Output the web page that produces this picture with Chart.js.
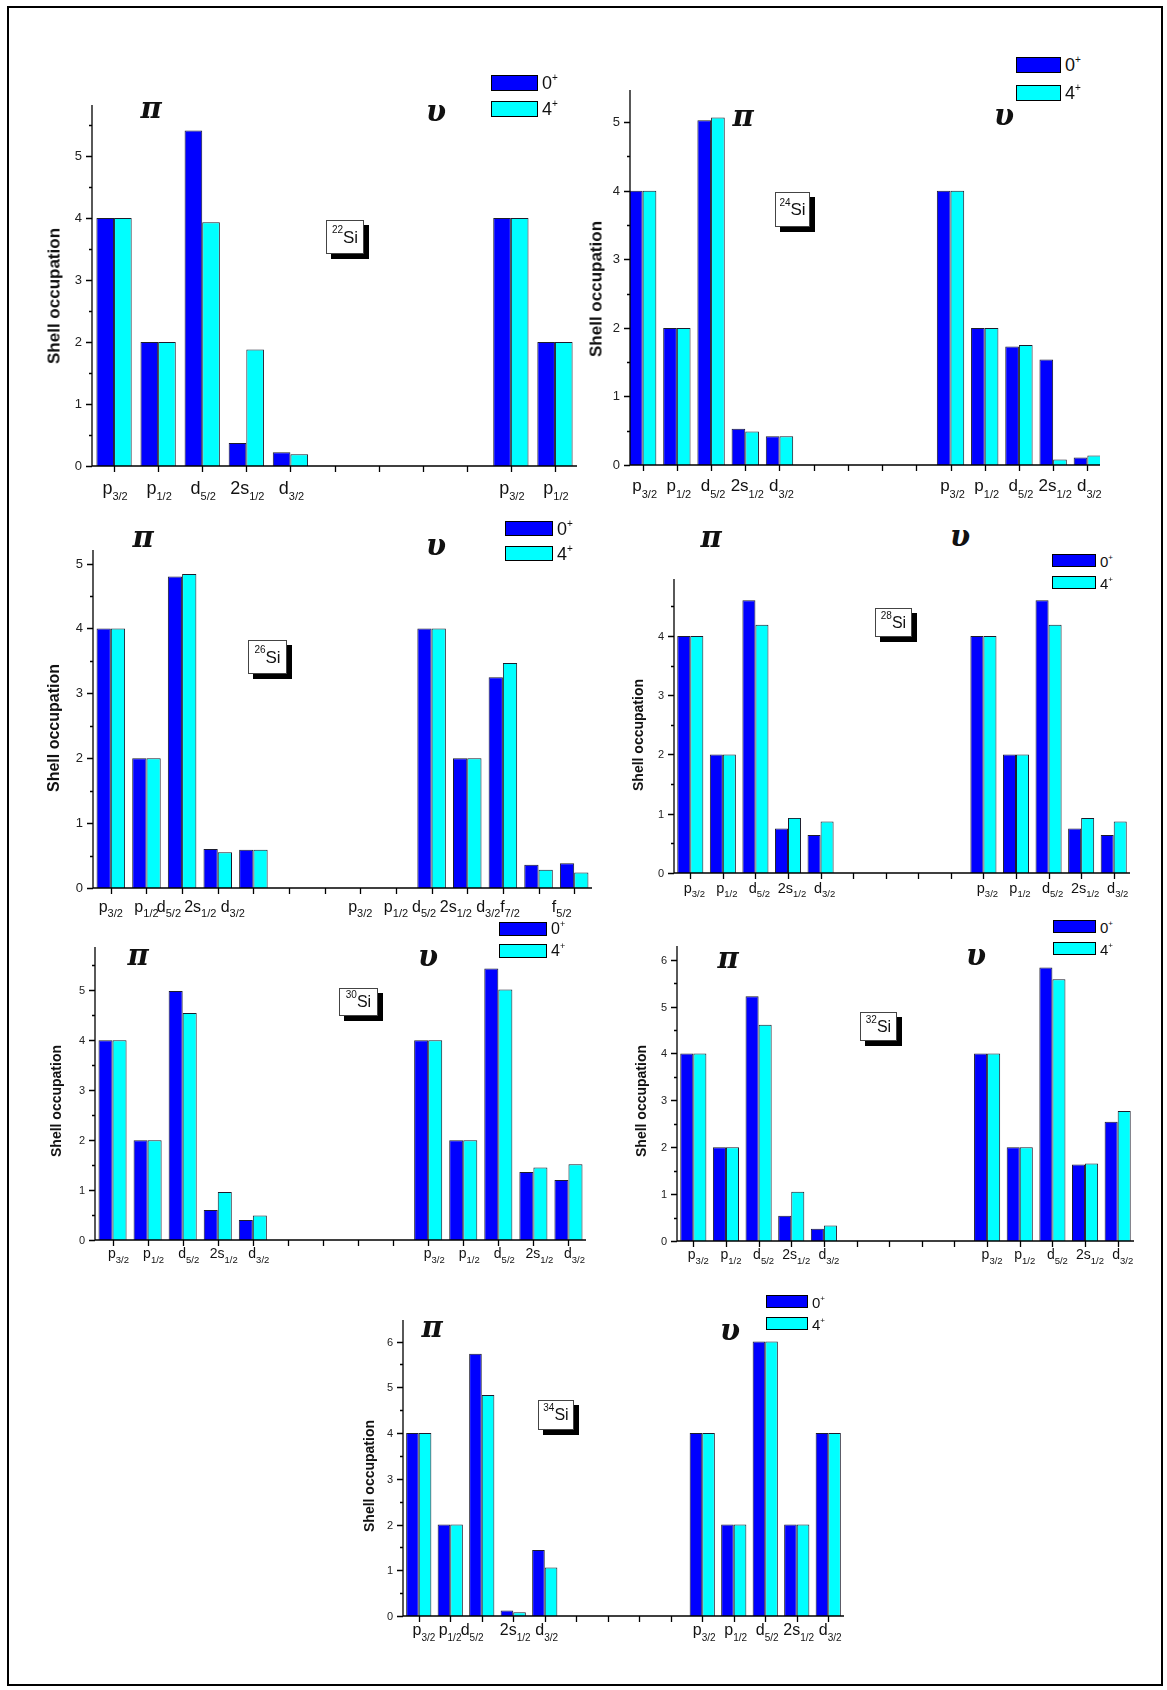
<!DOCTYPE html>
<html>
<head>
<meta charset="utf-8">
<script src="https://cdn.jsdelivr.net/npm/chart.js@4.4.1/dist/chart.umd.min.js"></script>
<style>
  body { margin: 0; background: #fff; }
  #page { position: relative; width: 1167px; height: 1690px; overflow: hidden;
          font-family: "Liberation Sans", Arial, sans-serif; color: #111; }
  #frame { position: absolute; left: 7px; top: 6px; width: 1156px; height: 1680px;
           border: 2px solid #000; box-sizing: border-box; }
  canvas { position: absolute; }
  .ov { position: absolute; white-space: nowrap; line-height: 1; }
  .greek { font-family: "DejaVu Serif", serif; font-weight: bold; font-style: italic;
           transform: translate(-50%, -50%); }
  .ytitle { font-weight: bold; transform: translate(-50%, -50%) rotate(-90deg); }
  .lgbox { position: absolute; border: 1.5px solid #000; box-sizing: border-box; }
  .si { background: #fff; border: 1px solid #444; box-shadow: 5px 5px 0 #000;
        box-sizing: border-box; display: flex; align-items: center; justify-content: center; }
  .sup { font-size: 10px; position: relative; top: -7px; }
</style>
</head>
<body>
<div id="page"><div id="frame"></div></div>
<script>
// Shell occupations of Si isotopes, 0+ and 4+ states (proton pi / neutron nu)

// categories
const shells22 = ['p3/2', 'p1/2', 'd5/2', '2s1/2', 'd3/2', '', '', '', '', 'p3/2', 'p1/2'];
const shells14 = ['p3/2', 'p1/2', 'd5/2', '2s1/2', 'd3/2', '', '', '', '', 'p3/2', 'p1/2', 'd5/2', '2s1/2', 'd3/2'];
// 26Si and 34Si labels sit between the bars in the original
const shells26 = ['p3/2', 'p1/2', 'd5/2', '2s1/2', 'd3/2', 'p3/2', 'p1/2', 'd5/2', '2s1/2', 'd3/2', 'f7/2', 'f5/2'];
const at26 = [0, 1, 1.63, 2.51, 3.42, 7, 8, 8.79, 9.68, 10.59, 11.2, 12.65];
const at34 = [0.1, 0.93, 1.63, 3, 4, 9, 10, 11, 12, 13];

// series values
const occ22_0 = [4, 2, 5.41, 0.37, 0.22, null, null, null, null, 4, 2];
const occ22_4 = [4, 2, 3.93, 1.88, 0.19, null, null, null, null, 4, 2];
const occ24_0 = [4, 2, 5.03, 0.53, 0.42, null, null, null, null, 4, 2, 1.73, 1.54, 0.11];
const occ24_4 = [4, 2, 5.07, 0.49, 0.42, null, null, null, null, 4, 2, 1.75, 0.08, 0.14];
const occ26_0 = [4, 2, 4.80, 0.60, 0.59, null, null, null, null, 4, 2, 3.25, 0.36, 0.38];
const occ26_4 = [4, 2, 4.84, 0.55, 0.59, null, null, null, null, 4, 2, 3.47, 0.28, 0.24];
const occ28_0 = [4, 2, 4.60, 0.75, 0.64, null, null, null, null, 4, 2, 4.60, 0.75, 0.64];
const occ28_4 = [4, 2, 4.19, 0.93, 0.87, null, null, null, null, 4, 2, 4.19, 0.93, 0.87];
const occ30_0 = [4, 2, 4.99, 0.60, 0.40, null, null, null, null, 4, 2, 5.44, 1.36, 1.20];
const occ30_4 = [4, 2, 4.55, 0.96, 0.49, null, null, null, null, 4, 2, 5.02, 1.45, 1.52];
const occ32_0 = [4, 2, 5.22, 0.54, 0.26, null, null, null, null, 4, 2, 5.83, 1.63, 2.54];
const occ32_4 = [4, 2, 4.61, 1.05, 0.33, null, null, null, null, 4, 2, 5.58, 1.65, 2.77];
const occ34_0 = [4, 2, 5.73, 0.12, 1.44, null, null, null, null, 4, 2, 6, 2, 4];
const occ34_4 = [4, 2, 4.83, 0.08, 1.06, null, null, null, null, 4, 2, 6, 2, 4];

// y-axis top value of each panel
const yTop = { 22: 5.82, 24: 5.47, 26: 5.21, 28: 4.96, 30: 5.87, 32: 6.29, 34: 6.47 };

const BLUE = '#0000ff', CYAN = '#00ffff', EDGE = '#1c1c2c';
const PADL = 60, PADT = 6, PADR = 6, PADB = 45;

// layout of each panel on the page
const panels = [
  { iso: 22, cats: shells22, g0: occ22_0, g4: occ22_4,
    left: 92, right: 577, top: 105, bottom: 466, pad: 0.5,
    tickFont: 13, labFont: 18, subFont: 11, labBase: 28, subBase: 34, dx: 1,
    pi: [151, 108], nu: [436, 111], greek: 29,
    leg: { x: 491, w: 47, y0: 75, y4: 101, h: 16, font: 18 },
    si: { x: 326, y: 220, w: 38, h: 34, font: 17 },
    title: { x: 54, y: 296, font: 17 } },
  { iso: 24, cats: shells14, g0: occ24_0, g4: occ24_4,
    left: 630, right: 1100, top: 89.5, bottom: 464.3, pad: 0.37,
    tickFont: 13, labFont: 17, subFont: 11, labBase: 26, subBase: 33, dx: 2,
    pi: [743, 116], nu: [1004, 115], greek: 29,
    leg: { x: 1016, w: 45, y0: 57, y4: 85, h: 16, font: 18 },
    si: { x: 775, y: 192, w: 35, h: 35, font: 17 },
    title: { x: 596, y: 289, font: 17 } },
  { iso: 26, cats: shells26, at: at26, g0: occ26_0, g4: occ26_4,
    left: 93, right: 592, top: 549.6, bottom: 888, pad: 0.5,
    tickFont: 13, labFont: 16, subFont: 11, labBase: 24, subBase: 29, dx: 0,
    pi: [143, 537], nu: [436, 545], greek: 29,
    leg: { x: 505, w: 48, y0: 521, y4: 546, h: 15, font: 18 },
    si: { x: 248, y: 640, w: 39, h: 34, font: 17 },
    title: { x: 54, y: 728, font: 16 } },
  { iso: 28, cats: shells14, g0: occ28_0, g4: occ28_4,
    left: 674, right: 1130, top: 578.7, bottom: 873, pad: 0.5,
    tickFont: 11, labFont: 14.5, subFont: 9.5, labBase: 20, subBase: 24, dx: 4,
    pi: [711, 537], nu: [960, 536], greek: 29,
    leg: { x: 1052, w: 44, y0: 554, y4: 576, h: 13, font: 15 },
    si: { x: 875, y: 608, w: 37, h: 29, font: 16 },
    title: { x: 638, y: 735, font: 14 } },
  { iso: 30, cats: shells14, g0: occ30_0, g4: occ30_4,
    left: 95, right: 586, top: 947.3, bottom: 1240, pad: 0.5,
    tickFont: 11, labFont: 14, subFont: 9.5, labBase: 18, subBase: 23, dx: 6,
    pi: [138, 955], nu: [428, 956], greek: 29,
    leg: { x: 499, w: 48, y0: 922, y4: 944, h: 14, font: 16 },
    si: { x: 339, y: 988, w: 39, h: 28, font: 16 },
    title: { x: 56, y: 1101, font: 14 } },
  { iso: 32, cats: shells14, g0: occ32_0, g4: occ32_4,
    left: 677, right: 1134, top: 945.7, bottom: 1240.7, pad: 0.5,
    tickFont: 11, labFont: 14, subFont: 9.5, labBase: 18, subBase: 23, dx: 5,
    pi: [728, 958], nu: [976, 955], greek: 29,
    leg: { x: 1053, w: 43, y0: 920, y4: 942, h: 13, font: 15 },
    si: { x: 860, y: 1012, w: 37, h: 29, font: 16 },
    title: { x: 641, y: 1101, font: 14 } },
  { iso: 34, cats: shells14.filter(s => s), at: at34, g0: occ34_0, g4: occ34_4,
    left: 403, right: 844, top: 1320, bottom: 1616, pad: 0.5,
    tickFont: 11, labFont: 16, subFont: 10, labBase: 19, subBase: 25, dx: 2,
    pi: [432, 1327], nu: [730, 1330], greek: 29,
    leg: { x: 766, w: 42, y0: 1295, y4: 1317, h: 13, font: 15 },
    si: { x: 538, y: 1400, w: 36, h: 30, font: 16 },
    title: { x: 369, y: 1476, font: 14 } },
];

const page = document.getElementById('page');

function addDiv(cls, css, html) {
  const d = document.createElement('div');
  d.className = cls;
  Object.assign(d.style, css);
  d.innerHTML = html;
  page.appendChild(d);
  return d;
}

// Origin-like axes: black frame lines, outward ticks, minor ticks at .5, subscripted shell labels
function originAxes(p) {
  return {
    id: 'originAxes' + p.iso,
    afterDatasetsDraw(chart) {
      const { ctx, chartArea: a, scales: { x, y } } = chart;
      const y0 = y.getPixelForValue(0);
      ctx.save();
      ctx.strokeStyle = '#000';
      ctx.lineWidth = 1.3;
      ctx.beginPath();
      ctx.moveTo(a.left, y0); ctx.lineTo(a.right, y0);
      ctx.moveTo(a.left, y0); ctx.lineTo(a.left, a.top);
      // y ticks
      ctx.fillStyle = '#222';
      ctx.font = p.tickFont + 'px "Liberation Sans", Arial, sans-serif';
      ctx.textAlign = 'right';
      ctx.textBaseline = 'middle';
      for (let k = 0; k / 2 <= yTop[p.iso]; k++) {
        const py = Math.round(y.getPixelForValue(k / 2)) + 0.5;
        const len = k % 2 === 0 ? 6 : 3;
        ctx.moveTo(a.left - len, py); ctx.lineTo(a.left, py);
        if (k % 2 === 0) ctx.fillText(String(k / 2), a.left - 10, py);
      }
      // x ticks
      for (let i = 0; i < p.g0.length; i++) {
        const px = Math.round(x.getPixelForValue(i)) + 0.5;
        ctx.moveTo(px, y0); ctx.lineTo(px, y0 + 6);
      }
      ctx.stroke();
      // x labels with subscripts
      ctx.textAlign = 'left';
      ctx.textBaseline = 'alphabetic';
      ctx.fillStyle = '#111';
      const mainFont = p.labFont + 'px "Liberation Sans", Arial, sans-serif';
      const subFont = p.subFont + 'px "Liberation Sans", Arial, sans-serif';
      p.cats.forEach((lab, i) => {
        if (!lab) return;
        const m = lab.match(/^(\d?[a-z])(.*)$/);
        const pos = p.at ? p.at[i] : i;
        ctx.font = mainFont;
        const w1 = ctx.measureText(m[1]).width;
        ctx.font = subFont;
        const w2 = ctx.measureText(m[2]).width;
        const sx = x.getPixelForValue(pos) + p.dx - (w1 + w2) / 2;
        ctx.font = mainFont;
        ctx.fillText(m[1], sx, y0 + p.labBase);
        ctx.font = subFont;
        ctx.fillText(m[2], sx + w1, y0 + p.subBase);
      });
      ctx.restore();
    }
  };
}

panels.forEach(p => {
  const W = Math.round(p.right - p.left + PADL + PADR);
  const H = Math.round(p.bottom - p.top + PADT + PADB);
  const cv = document.createElement('canvas');
  cv.width = W; cv.height = H;
  cv.style.width = W + 'px'; cv.style.height = H + 'px';
  cv.style.left = (p.left - PADL) + 'px';
  cv.style.top = (p.top - PADT) + 'px';
  page.appendChild(cv);

  const n = p.g0.length;
  const xMin = -p.pad, xMax = n - 1 + p.pad;
  const pts = arr => arr.map((v, i) => ({ x: i, y: v }));
  const ticksAt = arr => arr.map((_, i) => ({ value: i }));

  new Chart(cv, {
    type: 'bar',
    data: {
      datasets: [
        { label: '0+', data: pts(p.g0), backgroundColor: BLUE, borderColor: EDGE,
          borderWidth: 1, categoryPercentage: 0.8, barPercentage: 1 },
        { label: '4+', data: pts(p.g4), backgroundColor: CYAN, borderColor: EDGE,
          borderWidth: 1, categoryPercentage: 0.8, barPercentage: 1 }
      ]
    },
    options: {
      responsive: false,
      animation: false,
      devicePixelRatio: 1,
      layout: { padding: { left: PADL, top: PADT, right: PADR, bottom: PADB } },
      plugins: { legend: { display: false }, tooltip: { enabled: false } },
      scales: {
        x: { type: 'linear', display: false, offset: false, bounds: 'data', min: xMin, max: xMax,
             grid: { offset: false },
             afterBuildTicks: s => { s.ticks = ticksAt(p.g0); s.min = xMin; s.max = xMax; } },
        y: { display: false, bounds: 'data', min: 0, max: yTop[p.iso],
             afterBuildTicks: s => { s.min = 0; s.max = yTop[p.iso]; } }
      }
    },
    plugins: [originAxes(p)]
  });

  // pi / nu headings
  addDiv('ov greek', { left: p.pi[0] + 'px', top: p.pi[1] + 'px', fontSize: p.greek + 'px' }, 'π');
  addDiv('ov greek', { left: p.nu[0] + 'px', top: p.nu[1] + 'px', fontSize: p.greek + 'px' }, 'υ');

  // legend
  const L = p.leg;
  [[L.y0, BLUE, '0'], [L.y4, CYAN, '4']].forEach(([ty, col, txt]) => {
    addDiv('lgbox', { left: L.x + 'px', top: ty + 'px', width: L.w + 'px', height: L.h + 'px', background: col }, '');
    addDiv('ov', { left: (L.x + L.w + 4) + 'px', top: (ty + L.h / 2) + 'px', fontSize: L.font + 'px',
                   transform: 'translateY(-50%)' },
           txt + '<span style="font-size:' + Math.round(L.font * 0.55) + 'px;position:relative;top:-' + Math.round(L.font * 0.45) + 'px">+</span>');
  });

  // isotope box
  const S = p.si;
  addDiv('ov si', { left: S.x + 'px', top: S.y + 'px', width: S.w + 'px', height: S.h + 'px', fontSize: S.font + 'px' },
         '<span class="sup">' + p.iso + '</span>Si');

  // y title
  addDiv('ov ytitle', { left: p.title.x + 'px', top: p.title.y + 'px', fontSize: p.title.font + 'px' }, 'Shell occupation');
});
</script>
</body>
</html>
